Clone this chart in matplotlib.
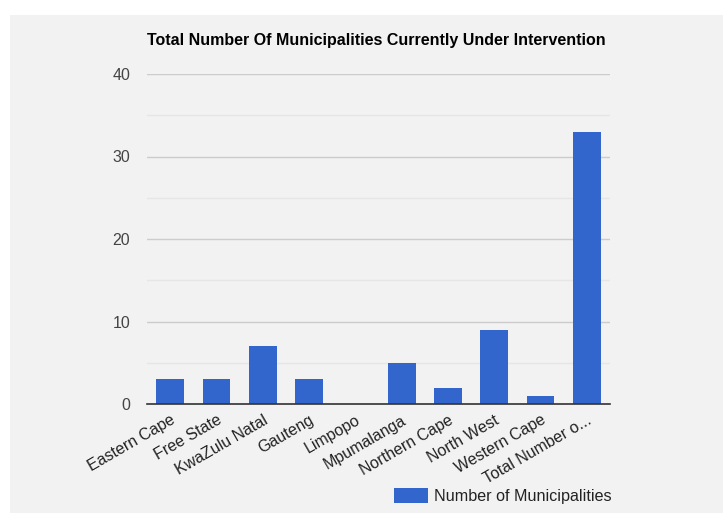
import matplotlib.pyplot as plt
from matplotlib.patches import Rectangle

plt.rcParams['font.family'] = ['Liberation Sans', 'DejaVu Sans']

provinces = ["Eastern Cape", "Free State", "KwaZulu Natal", "Gauteng", "Limpopo",
             "Mpumalanga", "Northern Cape", "North West", "Western Cape",
             "Total Number o..."]
municipalities = [3, 3, 7, 3, 0, 5, 2, 9, 1, 33]
major_ticks = [0, 10, 20, 30, 40]
minor_ticks = [5, 15, 25, 35]

BLUE = "#3366cc"
BG = "#f2f2f2"

fig = plt.figure(figsize=(7.23, 5.13), dpi=100)
fig.patch.set_facecolor("white")
fig.patches.append(Rectangle((10 / 723, 0), 1, (513 - 15) / 513,
                             transform=fig.transFigure, facecolor=BG,
                             edgecolor="none", zorder=-10))

ax = fig.add_axes([147 / 723, 1 - 404 / 513, (610 - 147) / 723, (404 - 74) / 513])
ax.patch.set_alpha(0)

x = range(len(provinces))
ax.bar(x, municipalities, width=0.6, color=BLUE, zorder=3,
       label="Number of Municipalities")

ax.set_xlim(-0.5, len(provinces) - 0.5)
ax.set_ylim(0, 40)
ax.set_yticks(major_ticks)
ax.set_yticks(minor_ticks, minor=True)
ax.yaxis.grid(True, which="major", color="#cccccc", linewidth=1, zorder=1)
ax.yaxis.grid(True, which="minor", color="#e6e6e6", linewidth=1, zorder=1)
ax.set_axisbelow(True)
ax.tick_params(axis="y", which="both", length=0, labelsize=11.5,
               labelcolor="#444444", pad=12)

ax.set_xticks(list(x))
ax.set_xticklabels(provinces, rotation=30, ha="right", rotation_mode="anchor",
                   fontsize=11.5, color="#222222")
ax.tick_params(axis="x", length=0, pad=6)

for s in ["top", "right", "left"]:
    ax.spines[s].set_visible(False)
ax.spines["bottom"].set_color("#333333")
ax.spines["bottom"].set_linewidth(1.2)
ax.spines["bottom"].set_zorder(4)

fig.text(376 / 723, 1 - 41 / 513, "Total Number Of Municipalities Currently Under Intervention",
         ha="center", va="center", fontsize=11.5, fontweight="bold", color="#000000")

fig.legend(loc="center right", bbox_to_anchor=(626 / 723, 1 - 496 / 513),
           frameon=False, fontsize=11.6, handlelength=2.1, handleheight=1.0,
           handletextpad=0.35, labelcolor="#222222")

plt.savefig("out.png", dpi=100, facecolor=fig.get_facecolor())
